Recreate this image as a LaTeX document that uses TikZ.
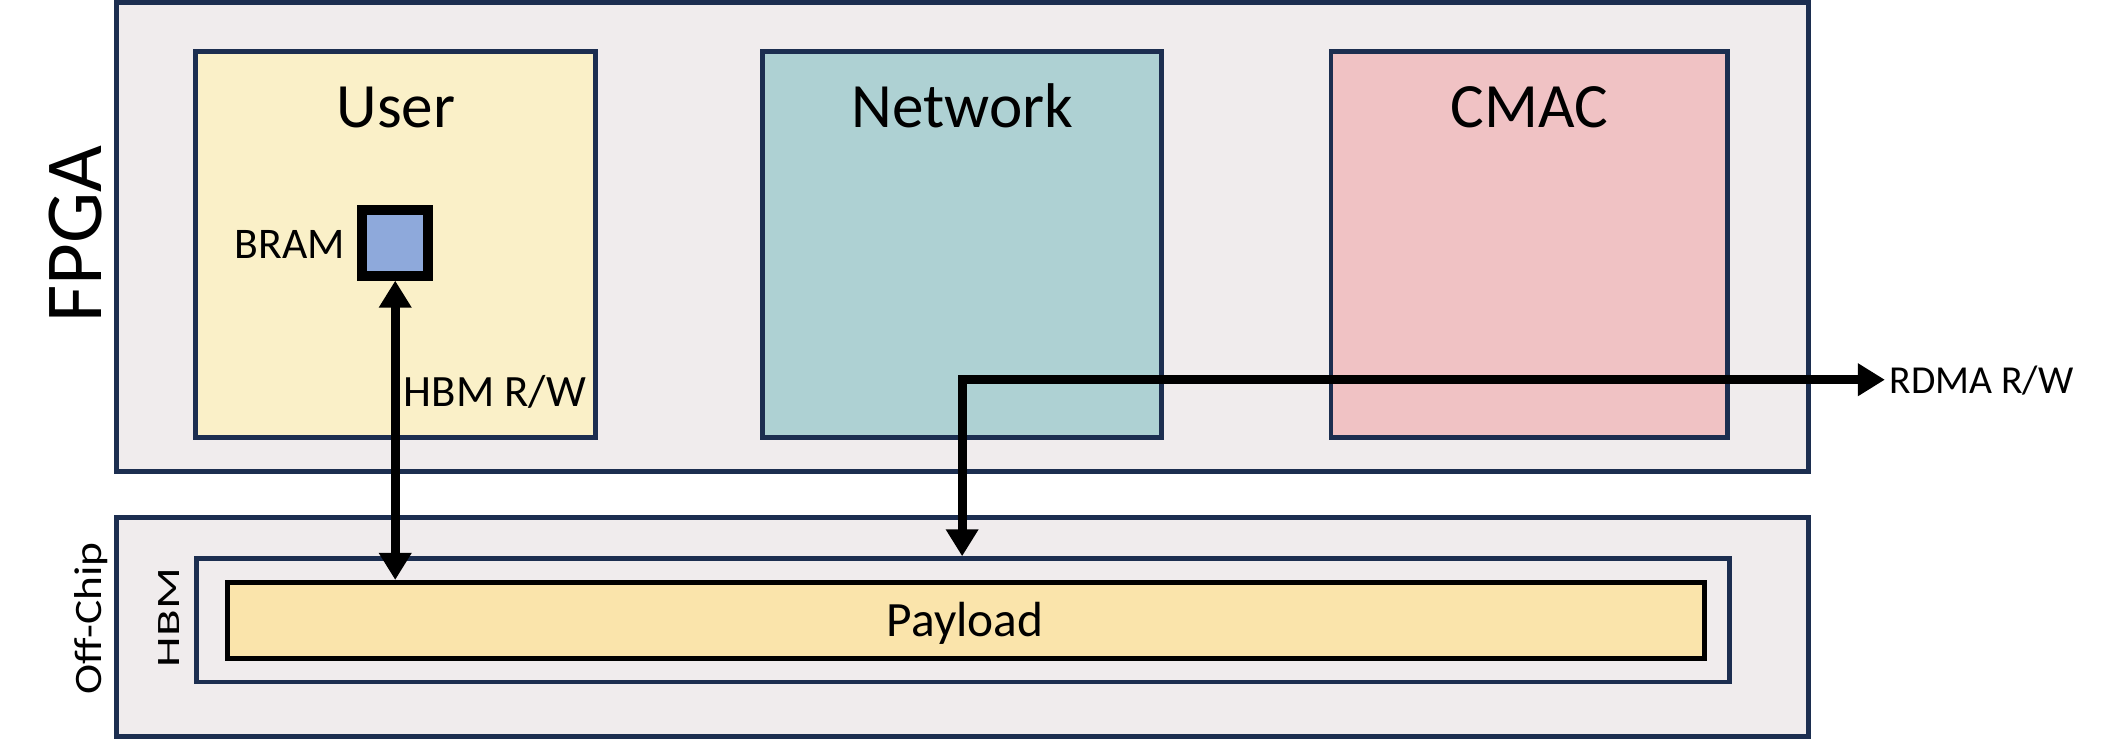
\documentclass[tikz,border=0pt]{standalone}
\usepackage{fontspec}
\setmainfont{Carlito}
\usepackage{graphicx}
\usetikzlibrary{arrows.meta,fit}
\definecolor{navy}{HTML}{1C2E50}
\definecolor{panel}{HTML}{F0ECED}
\definecolor{usercol}{HTML}{FAF0C8}
\definecolor{netcol}{HTML}{AED1D3}
\definecolor{cmaccol}{HTML}{F0C2C4}
\definecolor{bramcol}{HTML}{8EA9DB}
\definecolor{paycol}{HTML}{FAE4AB}
\newcommand\fsz[1]{\fontsize{#1pt}{#1pt}\selectfont}
\begin{document}
\begin{tikzpicture}[x=0.5pt,y=-0.5pt,
  frame/.style={draw=navy,line width=1.8pt,fill=#1,inner sep=0pt},
  payframe/.style={draw=black,line width=1.85pt,fill=paycol,inner sep=0pt},
  bramframe/.style={draw=black,line width=3.65pt,fill=bramcol,inner sep=0pt},
  arr/.style={line width=3.4pt,line join=miter,>={Triangle[width=11.5pt,length=10pt]},<->},
  txt/.style={inner sep=0pt,text=black}]
\useasboundingbox (0,0) rectangle (1568,548);
% boxes
\node[frame=panel,fit={(86.5,1.8) (1341,349.5)}] (fpga) {};
\node[frame=usercol,fit={(145,38.2) (441.3,324.5)}] (user) {};
\node[frame=netcol,fit={(565,38.2) (861,324.5)}] (network) {};
\node[frame=cmaccol,fit={(986.7,38.2) (1281,324.5)}] (cmac) {};
\node[bramframe,fit={(268.65,155.7) (317.35,204.4)}] (bram) {};
\node[frame=panel,fit={(86.5,383.6) (1341,546)}] (offchip) {};
\node[frame=panel,fit={(145.5,414.2) (1282.3,505.6)}] (hbm) {};
\node[payframe,fit={(168.8,431.8) (1263.7,488.2)}] (payload) {};
% labels
\node[txt,anchor=base,font=\fsz{23.4}] (userlbl) at (293.5,94.8) {User};
\node[txt,anchor=base,font=\fsz{23.4}] (netlbl) at (713.5,94.8) {Network};
\node[txt,anchor=base,font=\fsz{23.4}] (cmaclbl) at (1133.8,94.8) {CMAC};
\node[txt,anchor=base east,font=\fsz{16.2}] (bramlbl) at (256,191.5) {BRAM};
\node[txt,anchor=base west,font=\fsz{16.6}] (hbmrw) at (299,301.5) {HBM R/W};
\node[txt,anchor=base west,font=\fsz{14.7}] (rdma) at (1400.4,291.6) {RDMA R/W};
\node[txt,anchor=base,font=\fsz{18.3}] (paylbl) at (715.5,471.5) {Payload};
\node[txt,rotate=90,anchor=base,font=\fsz{30}] (fpgalbl) at (75.4,173.3) {FPGA};
\node[txt,rotate=90,anchor=base,font=\fsz{14.4}] (offlbl) at (75.4,458.4) {\scalebox{1.17}[1]{Off-Chip}};
\node[txt,rotate=90,anchor=base,font=\fsz{12.1}] (hbmlbl) at (132.9,457.8) {\scalebox{1.5}[1]{HBM}};
% connectors
\coordinate (corner) at (713.3,281.5);
\draw[arr] (bram.south) -- (bram.south |- payload.north);
\draw[arr,shorten >=1.5pt] (corner |- hbm.north) -- (corner) -- (corner -| rdma.west);
\end{tikzpicture}
\end{document}
